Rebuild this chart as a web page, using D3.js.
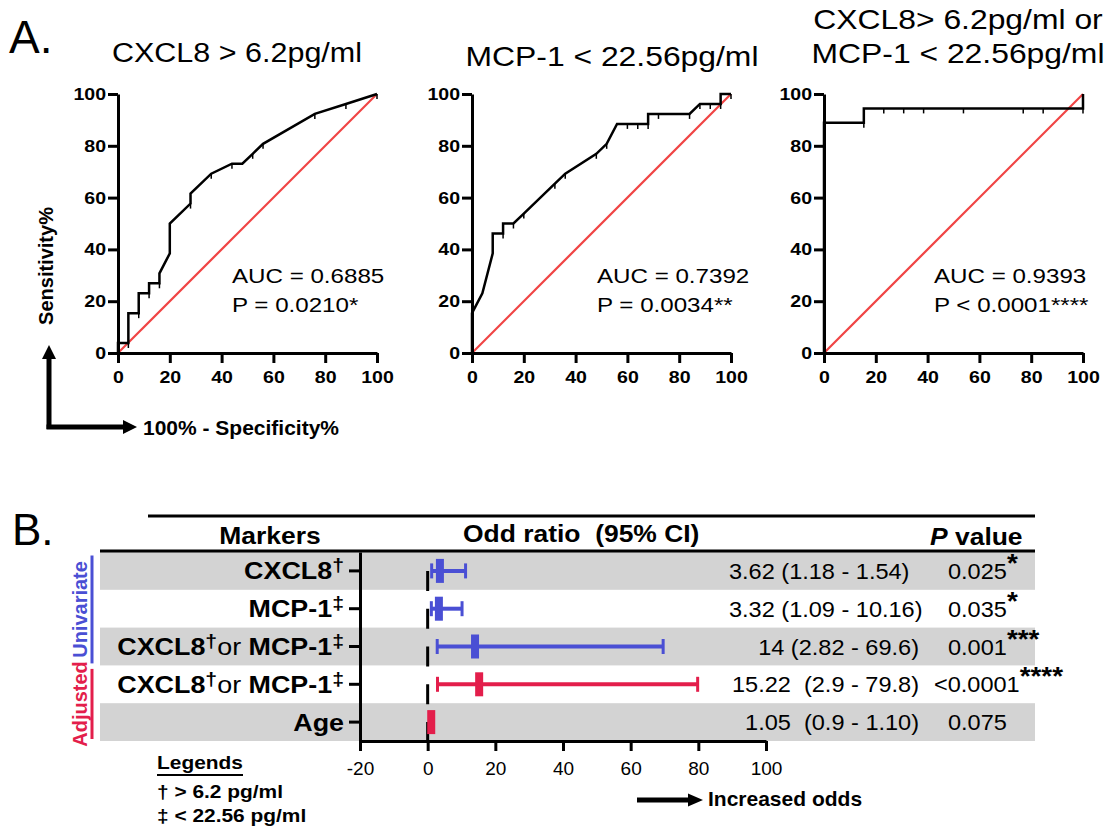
<!DOCTYPE html>
<html lang="en">
<head>
<meta charset="UTF-8">
<title>ROC curves and odds ratios</title>
<script src="https://d3js.org/d3.v7.min.js"></script>
<style>
  body { margin: 0; background: #fff; }
  svg text { font-family: "Liberation Sans", Arial, sans-serif; }
</style>
</head>
<body>
<script>
// ---------- Panel A data (x = 100% - specificity, y = sensitivity, in %)
const rocTitles = [["CXCL8 > 6.2pg/ml"], ["MCP-1 < 22.56pg/ml"], ["CXCL8> 6.2pg/ml or", "MCP-1 < 22.56pg/ml"]];
const rocAUC = ["AUC = 0.6885", "AUC = 0.7392", "AUC = 0.9393"];
const rocP = ["P = 0.0210*", "P = 0.0034**", "P < 0.0001****"];
const rocTicks = [0, 20, 40, 60, 80, 100];
const chanceLine = [[0, 0], [100, 100]];

const rocCXCL8 = [[0,0],[0,3.85],[4,3.85],[4,15.38],[8,15.38],[8,23.08],[12,23.08],[12,26.92],[16,26.92],[16,30.77],
  [20,38.46],[20,50],[28,57.69],[28,61.54],[36,69.23],[44,73.08],[48,73.08],[52,76.92],[56,80.77],[76,92.31],[88,96.15],[100,100]];
const marksCXCL8 = [[4,3.85],[8,15.38],[12,23.08],[16,26.92],[28,57.69],[36,69.23],[44,73.08],[52,76.92],[56,80.77],[76,92.31],[88,96.15],[100,100]];

const rocMCP1 = [[0,0],[0,15.38],[4,23.08],[8,38.46],[8,46.15],[12,46.15],[12,50],[16,50],[20,53.85],[32,65.38],[36,69.23],
  [48,76.92],[52,80.77],[56,88.46],[68,88.46],[68,92.31],[84,92.31],[88,96.15],[96,96.15],[96,100],[100,100]];
const marksMCP1 = [[12,46.15],[16,50],[20,53.85],[32,65.38],[36,69.23],[48,76.92],[52,80.77],[60,88.46],[64,88.46],[68,88.46],
  [72,92.31],[84,92.31],[88,96.15],[92,96.15],[96,96.15],[100,100]];

const rocCombined = [[0,0],[0,88.89],[15.38,88.89],[15.38,94.44],[100,94.44],[100,100]];
const marksCombined = [[15.38,88.89],[23.08,94.44],[30.77,94.44],[38.46,94.44],[53.85,94.44],[76.92,94.44],[84.62,94.44],[100,94.44]];

// ---------- Panel B data
const markerLabels = ["CXCL8†", "MCP-1‡", "CXCL8†or MCP-1‡", "CXCL8†or MCP-1‡", "Age"];
const analysis = ["Univariate", "Univariate", "Univariate", "Adjusted", "Adjusted"];
const oddsRatio = [3.62, 3.32, 14, 15.22, 1.05];
const ciLow = [1.18, 1.09, 2.82, 2.9, 0.9];
const ciHigh = [11.2, 10.16, 69.6, 79.8, 1.10];   // bar ends as drawn
const ciText = ["3.62 (1.18 - 1.54)", "3.32 (1.09 - 10.16)", "14 (2.82 - 69.6)", "15.22  (2.9 - 79.8)", "1.05  (0.9 - 1.10)"];
const pText = ["0.025", "0.035", "0.001", "<0.0001", "0.075"];
const pStars = ["*", "*", "***", "****", ""];
const oddsTicks = [-20, 0, 20, 40, 60, 80, 100];
const legendLines = ["† > 6.2 pg/ml", "‡ < 22.56 pg/ml"];

const groupColor = {Univariate: "#4a4fd4", Adjusted: "#e31e4b"};

const svg = d3.select("body").append("svg")
    .attr("width", 1110)
    .attr("height", 829);

// text helper: k stretches the glyphs horizontally
function addText(g, s, x, y, o = {}) {
    return g.append("text")
        .attr("transform", `translate(${x},${y}) scale(${o.k || 1},1)`)
        .attr("text-anchor", o.anchor || "start")
        .attr("xml:space", "preserve")
        .style("white-space", "pre")
        .style("font-size", (o.size || 16) + "px")
        .style("font-weight", o.weight || "normal")
        .style("font-style", o.italic ? "italic" : "normal")
        .attr("fill", o.fill || "#000")
        .text(s);
}

function arrowHead(g, tip, dir, len, half) {
    // dir: "up" or "right"
    const [tx, ty] = tip;
    const pts = dir === "up"
        ? [[tx, ty], [tx - half, ty + len], [tx + half, ty + len]]
        : [[tx, ty], [tx - len, ty - half], [tx - len, ty + half]];
    g.append("path").attr("d", d3.line()(pts) + "Z").attr("fill", "#000");
}

// ================= Panel A =================
addText(svg, "A.", 9, 53, {size: 46});

const panelLeft = [118, 472, 824];
const titleX = [237, 612, 958];
const titleY = [[62], [66], [29, 63]];
const titleK = [1.13, 1.18, 1.18];
const aucX = [232, 597, 934];
const curves = [rocCXCL8, rocMCP1, rocCombined];
const marks = [marksCXCL8, marksMCP1, marksCombined];

curves.forEach((curve, i) => {
    const g = svg.append("g");
    const x = d3.scaleLinear().domain([0, 100]).range([panelLeft[i], panelLeft[i] + 259]);
    const y = d3.scaleLinear().domain([0, 100]).range([353, 94]);
    const line = d3.line().x(d => x(d[0])).y(d => y(d[1]));

    // chance line
    g.append("path").datum(chanceLine)
        .attr("d", line)
        .attr("fill", "none")
        .attr("stroke", "#f04444")
        .attr("stroke-width", 2.2);

    // ROC curve
    g.append("path").datum(curve)
        .attr("d", line)
        .attr("fill", "none")
        .attr("stroke", "#000")
        .attr("stroke-width", 2.5);

    g.selectAll(".mark").data(marks[i]).enter().append("line")
        .attr("x1", d => x(d[0])).attr("x2", d => x(d[0]))
        .attr("y1", d => y(d[1])).attr("y2", d => y(d[1]) + 5)
        .attr("stroke", "#000")
        .attr("stroke-width", 1.5);

    const k = 1.15;
    const ax = g.append("g")
        .attr("transform", `translate(0,${y(0)})`)
        .call(d3.axisBottom(x).tickValues(rocTicks).tickSize(10).tickPadding(8).tickSizeOuter(0));
    const ay = g.append("g")
        .attr("transform", `translate(${x(0)},0)`)
        .call(d3.axisLeft(y).tickValues(rocTicks).tickSize(10).tickPadding(2).tickSizeOuter(0));
    [ax, ay].forEach(a => {
        a.select(".domain").attr("stroke-width", 3);
        a.selectAll(".tick line").attr("stroke-width", 3);
        a.selectAll(".tick text")
            .style("font-size", "17px")
            .style("font-weight", "bold")
            .attr("fill", "#000");
    });
    ax.selectAll(".tick text").attr("transform", `scale(${k},1)`);
    ay.selectAll(".tick text").attr("x", -12 / k).attr("transform", `scale(${k},1)`);

    rocTitles[i].forEach((t, j) => {
        addText(svg, t, titleX[i], titleY[i][j], {size: 27, anchor: "middle", k: titleK[i]});
    });
    addText(svg, rocAUC[i], aucX[i], 283, {size: 21, k: 1.15});
    addText(svg, rocP[i], aucX[i], 312, {size: 21, k: 1.15});
});

// axis explanation arrows
const ga = svg.append("g");
ga.append("line").attr("x1", 49).attr("x2", 49).attr("y1", 429).attr("y2", 358)
    .attr("stroke", "#000").attr("stroke-width", 5);
arrowHead(ga, [49, 345], "up", 14, 7);
ga.append("line").attr("x1", 46.5).attr("x2", 125).attr("y1", 427).attr("y2", 427)
    .attr("stroke", "#000").attr("stroke-width", 5);
arrowHead(ga, [137, 427], "right", 14, 7);
addText(svg, "100% - Specificity%", 143, 435, {size: 20, weight: "bold", k: 1.05});
svg.append("text")
    .attr("transform", "translate(53,266) rotate(-90)")
    .attr("text-anchor", "middle")
    .style("font-size", "20px")
    .style("font-weight", "bold")
    .text("Sensitivity%");

// ================= Panel B =================
addText(svg, "B.", 12, 545, {size: 44});

const rows = d3.range(markerLabels.length);
const yF = d3.scaleBand().domain(rows).range([552, 741]);
const xF = d3.scaleLinear().domain([-20, 100]).range([360, 766]);
const cy = i => yF(i) + yF.bandwidth() / 2;

// grey bands
svg.selectAll(".band").data(rows.filter(i => i % 2 === 0)).enter().append("rect")
    .attr("x", 100).attr("width", 935)
    .attr("y", i => yF(i)).attr("height", yF.bandwidth())
    .attr("fill", "#d3d3d3");

// table rules
svg.append("line").attr("x1", 148).attr("x2", 1035).attr("y1", 516).attr("y2", 516)
    .attr("stroke", "#000").attr("stroke-width", 3);
svg.append("line").attr("x1", 100).attr("x2", 1035).attr("y1", 551).attr("y2", 551)
    .attr("stroke", "#000").attr("stroke-width", 3);

// headers
addText(svg, "Markers", 270, 544, {size: 23, weight: "bold", anchor: "middle", k: 1.15});
addText(svg, "Odd ratio  (95% CI)", 463, 542, {size: 23, weight: "bold", k: 1.15});
const ph = addText(svg, "", 930, 545, {size: 23, weight: "bold", k: 1.15});
ph.append("tspan").style("font-style", "italic").text("P");
ph.append("tspan").text(" value");

// axes
const fx = svg.append("g")
    .attr("transform", `translate(0,741)`)
    .call(d3.axisBottom(xF).tickValues(oddsTicks).tickFormat(d => String(d)).tickSize(10).tickPadding(11).tickSizeOuter(0));
const fy = svg.append("g")
    .attr("transform", `translate(360,0)`)
    .call(d3.axisLeft(yF).tickFormat("").tickSize(11).tickSizeOuter(0));
[fx, fy].forEach(a => {
    a.select(".domain").attr("stroke-width", 3);
    a.selectAll(".tick line").attr("stroke-width", 3);
});
fx.selectAll(".tick text").style("font-size", "19px").attr("fill", "#000");

// zero line
svg.append("line")
    .attr("x1", xF(0)).attr("x2", xF(0))
    .attr("y1", cy(0)).attr("y2", 741)
    .attr("stroke", "#000").attr("stroke-width", 3)
    .attr("stroke-dasharray", `20,${yF.bandwidth() - 20}`);

// error bars
rows.forEach(i => {
    const c = groupColor[analysis[i]];
    const g = svg.append("g").attr("fill", c).attr("stroke", c);
    g.append("line").attr("x1", xF(ciLow[i])).attr("x2", xF(ciHigh[i]))
        .attr("y1", cy(i)).attr("y2", cy(i)).attr("stroke-width", 4);
    [ciLow[i], ciHigh[i]].forEach(v => {
        g.append("line").attr("x1", xF(v)).attr("x2", xF(v))
            .attr("y1", cy(i) - 7.5).attr("y2", cy(i) + 7.5).attr("stroke-width", 3);
    });
    g.append("rect").attr("x", xF(oddsRatio[i]) - 4).attr("width", 8)
        .attr("y", cy(i) - 12).attr("height", 24).attr("stroke", "none");
});

// row labels, † and ‡ raised, "or" in normal weight
rows.forEach(i => {
    const t = addText(svg, "", 344, cy(i) + 8.5, {size: 24, weight: "bold", anchor: "end", k: 1.12});
    let shift = 0;
    markerLabels[i].split(/([†‡]|or)/).filter(s => s).forEach(s => {
        const sup = s === "†" || s === "‡";
        const dy = (sup ? -8 : 0) - shift;
        shift = sup ? -8 : 0;
        t.append("tspan")
            .attr("dy", dy)
            .style("font-size", sup ? "19px" : "24px")
            .style("font-weight", s === "or" ? "normal" : "bold")
            .text(s);
    });
});

// CI and P value columns
const ciAnchor = ["start", "start", "end", "end", "end"];
const ciX = [729, 729, 919, 919, 919];
const pX = [948, 948, 948, 934, 948];
rows.forEach(i => {
    addText(svg, ciText[i], ciX[i], cy(i) + 8, {size: 22, anchor: ciAnchor[i], k: 1.07});
    const p = addText(svg, pText[i], pX[i], cy(i) + 8, {size: 22, k: 1.07});
    if (pStars[i]) {
        p.append("tspan").attr("dy", -7).style("font-size", "26px").style("font-weight", "bold").text(pStars[i]);
    }
});

// group brackets
d3.groups(rows, i => analysis[i]).forEach(([name, idx]) => {
    const top = yF(d3.min(idx)) + 3.5, bottom = yF(d3.max(idx)) + yF.bandwidth() - 2;
    svg.append("line").attr("x1", 92).attr("x2", 92).attr("y1", top).attr("y2", bottom)
        .attr("stroke", groupColor[name]).attr("stroke-width", 3);
    svg.append("text")
        .attr("transform", `translate(87,${(top + bottom) / 2}) rotate(-90)`)
        .attr("text-anchor", "middle")
        .style("font-size", "20px")
        .style("font-weight", "bold")
        .attr("fill", groupColor[name])
        .text(name);
});

// legend
addText(svg, "Legends", 157, 769, {size: 19, weight: "bold", k: 1.1});
svg.append("line").attr("x1", 157).attr("x2", 243).attr("y1", 775).attr("y2", 775)
    .attr("stroke", "#000").attr("stroke-width", 2);
legendLines.forEach((s, j) => {
    addText(svg, s, 157, 798 + j * 24, {size: 19, weight: "bold", k: 1.1});
});

// increased odds arrow
const gi = svg.append("g");
gi.append("line").attr("x1", 637).attr("x2", 690).attr("y1", 800).attr("y2", 800)
    .attr("stroke", "#000").attr("stroke-width", 5);
arrowHead(gi, [703, 800], "right", 15, 6.5);
addText(svg, "Increased odds", 708, 806, {size: 21, weight: "bold"});
</script>
</body>
</html>
